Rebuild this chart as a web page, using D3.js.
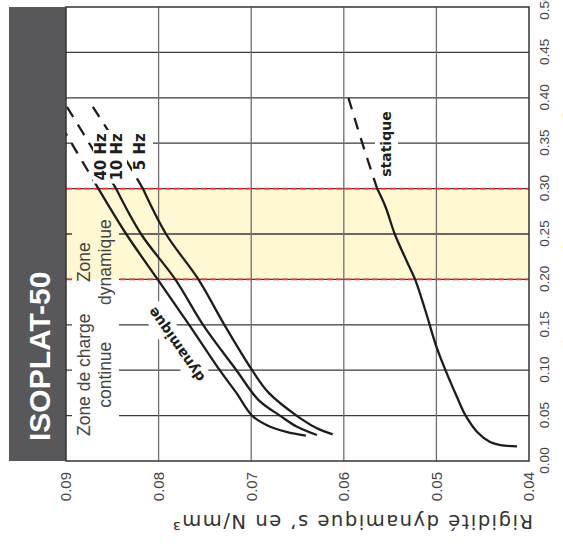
<!DOCTYPE html>
<html>
<head>
<meta charset="utf-8">
<script src="https://cdn.jsdelivr.net/npm/d3@7"></script>
<style>
body { margin: 0; background: #fff; }
svg { display: block; font-family: "DejaVu Sans", sans-serif; }
</style>
</head>
<body>
<svg id="chart" width="563" height="546"></svg>
<script>
// values: [static load in N/mm², dynamic stiffness in N/mm³]
const curve40Hz = [[0.39, 0.0917], [0.35, 0.0894], [0.30, 0.0865], [0.25, 0.0835], [0.20, 0.0801],
    [0.15, 0.0767], [0.10, 0.0734], [0.075, 0.0716], [0.05, 0.0699], [0.040, 0.0684], [0.032, 0.0662], [0.028, 0.0641]];
const curve10Hz = [[0.39, 0.0899], [0.35, 0.0875], [0.30, 0.0846], [0.25, 0.0819], [0.20, 0.0782],
    [0.15, 0.0752], [0.10, 0.0716], [0.067, 0.0692], [0.05, 0.0669], [0.038, 0.0651], [0.0286, 0.0629]];
const curve5Hz = [[0.39, 0.0871], [0.35, 0.0846], [0.30, 0.0817], [0.25, 0.0792], [0.20, 0.0757],
    [0.15, 0.0729], [0.10, 0.0699], [0.075, 0.0681], [0.05, 0.0651], [0.036, 0.0629], [0.0294, 0.0612]];
const curveStatic = [[0.40, 0.0595], [0.35, 0.0580], [0.30, 0.0564], [0.28, 0.0555], [0.25, 0.0545],
    [0.22, 0.0532], [0.20, 0.0523], [0.166, 0.0512], [0.126, 0.0500], [0.097, 0.0489], [0.071, 0.0478],
    [0.051, 0.0469], [0.032, 0.0456], [0.021, 0.0442], [0.0176, 0.0431], [0.016, 0.0413]];

const loadTicks = [0, 0.05, 0.10, 0.15, 0.20, 0.25, 0.30, 0.35, 0.40, 0.45, 0.50];
const stiffTicks = [0.09, 0.08, 0.07, 0.06, 0.05, 0.04];
const dynZone = [0.20, 0.30];
const dashedAbove = 0.30;
const hzLabels = ["40 Hz", "10 Hz", "5 Hz"];
const chartTitle = "ISOPLAT-50";
const xTitle = "Charge statique en N/mm²";
const yTitle = "Rigidité dynamique s’ en N/mm³";

const svg = d3.select("#chart");

// the chart is drawn upright, then turned a quarter turn to the left
const W = 454, H = 463;
const g = svg.append("g").attr("transform", "translate(66,461) rotate(-90)");

const x = d3.scaleLinear().domain([0, 0.5]).range([0, W]);
const y = d3.scaleLinear().domain([0.09, 0.04]).range([0, H]);

const defs = svg.append("defs");
defs.append("clipPath").attr("id", "plotClip")
    .append("rect").attr("width", W).attr("height", H);

const gridMask = defs.append("mask").attr("id", "gridMask")
    .attr("maskUnits", "userSpaceOnUse")
    .attr("x", -20).attr("y", -20).attr("width", W + 40).attr("height", H + 40);
gridMask.append("rect")
    .attr("x", -20).attr("y", -20).attr("width", W + 40).attr("height", H + 40)
    .attr("fill", "#fff");

// title band
g.append("rect")
    .attr("x", 0).attr("y", -57).attr("width", W).attr("height", 57)
    .attr("fill", "#58585a");
g.append("text")
    .attr("x", 20).attr("y", -16)
    .attr("font-family", "Liberation Sans, Arial, sans-serif")
    .attr("font-weight", "bold").attr("font-size", 30)
    .attr("fill", "#fff")
    .text(chartTitle);

// background + dynamic zone
g.append("rect").attr("width", W).attr("height", H).attr("fill", "#fff");
g.append("rect")
    .attr("x", x(dynZone[0])).attr("width", x(dynZone[1]) - x(dynZone[0]))
    .attr("y", 0).attr("height", H)
    .attr("fill", "#fff8d2");

// grid
const grid = g.append("g").attr("mask", "url(#gridMask)");
grid.selectAll(".load-line")
    .data(loadTicks.slice(1, -1))
    .enter().append("line")
    .attr("x1", d => x(d)).attr("x2", d => x(d))
    .attr("y1", 0).attr("y2", H)
    .attr("stroke", "#3a3a3a").attr("stroke-width", 1.3);
grid.selectAll(".stiff-line")
    .data(stiffTicks.slice(1, -1))
    .enter().append("line")
    .attr("x1", 0).attr("x2", W)
    .attr("y1", d => y(d)).attr("y2", d => y(d))
    .attr("stroke", "#707070").attr("stroke-width", 1.3);
grid.selectAll(".zone-line")
    .data(dynZone)
    .enter().append("line")
    .attr("x1", d => x(d)).attr("x2", d => x(d))
    .attr("y1", 0).attr("y2", H)
    .attr("stroke", "#e8363c").attr("stroke-width", 1.6)
    .attr("stroke-dasharray", "6,3");

function hideGrid(bb, padX, fromEdge, transform) {
    const y0 = fromEdge ? 6 : bb.y - 3;
    gridMask.append("rect")
        .attr("x", bb.x - padX).attr("width", bb.width + 2 * padX)
        .attr("y", y0).attr("height", bb.y + bb.height + 4 - y0)
        .attr("transform", transform || null)
        .attr("fill", "#000");
}

// zone labels
const notes = g.append("g")
    .attr("font-family", "Liberation Sans, Arial, sans-serif")
    .attr("font-size", 17.5).attr("fill", "#444")
    .attr("text-anchor", "middle");

function zoneLabel(at, lines) {
    const t = notes.append("g");
    lines.forEach((s, i) => {
        t.append("text").attr("x", x(at)).attr("y", 24 + i * 21).text(s);
    });
    hideGrid(t.node().getBBox(), 3, true);
}
zoneLabel(0.095, ["Zone de charge", "continue"]);
zoneLabel(0.219, ["Zone", "dynamique"]);

const bold = g.append("g")
    .attr("font-family", "DejaVu Sans, sans-serif")
    .attr("font-weight", "bold").attr("fill", "#1d1d1b");

const statLabel = bold.append("text")
    .attr("x", x(0.313)).attr("y", y(0.0549))
    .attr("font-size", 14)
    .text("statique");
hideGrid(statLabel.node().getBBox(), 3, false);

const dynTransform = `translate(${x(0.128)},${y(0.0781)}) rotate(-35)`;
const dynLabel = bold.append("text")
    .attr("transform", dynTransform)
    .attr("text-anchor", "middle").attr("dy", "0.35em")
    .attr("font-size", 14)
    .text("dynamique");
hideGrid(dynLabel.node().getBBox(), 2, false, dynTransform);

// curves
const line = d3.line()
    .x(d => x(d[0]))
    .y(d => y(d[1]))
    .curve(d3.curveCatmullRom.alpha(0.5));

const curves = g.append("g")
    .attr("clip-path", "url(#plotClip)")
    .attr("fill", "none").attr("stroke", "#1d1d1b")
    .attr("stroke-width", 2.3);

[curve40Hz, curve10Hz, curve5Hz, curveStatic].forEach(s => {
    curves.append("path").attr("d", line(s.filter(d => d[0] <= dashedAbove)));
    curves.append("path").attr("d", line(s.filter(d => d[0] >= dashedAbove)))
        .attr("stroke-dasharray", "12,9");
});

// frequency labels sit on white patches over the dashed ends
const hzBase = [40, 56, 79];
const hzGroup = g.append("g");
const hzText = bold.append("g").attr("font-size", 15).attr("text-anchor", "end");
hzLabels.forEach((s, i) => {
    const t = hzText.append("text").attr("x", x(0.361)).attr("y", hzBase[i]).text(s);
    const bb = t.node().getBBox();
    hzGroup.append("rect")
        .attr("x", bb.x - 3).attr("y", bb.y + 1)
        .attr("width", bb.width + 6).attr("height", bb.height)
        .attr("fill", "#fff");
    hideGrid(bb, 3, true);
});
bold.raise();

// frame
g.append("rect").attr("width", W).attr("height", H)
    .attr("fill", "none").attr("stroke", "#333").attr("stroke-width", 1.5);

// axes
const xAxis = g.append("g").attr("transform", `translate(0,${H})`)
    .call(d3.axisBottom(x).tickValues(loadTicks).tickFormat(d3.format(".2f")).tickSize(0).tickPadding(10));
xAxis.select(".domain").remove();
xAxis.attr("font-family", "Liberation Sans, Arial, sans-serif").attr("font-size", 13.5);
xAxis.selectAll("text").attr("fill", "#444");

const yAxis = g.append("g")
    .call(d3.axisLeft(y).tickValues(stiffTicks).tickFormat(d3.format(".2f")).tickSize(0).tickPadding(11));
yAxis.select(".domain").remove();
yAxis.attr("font-family", "Liberation Sans, Arial, sans-serif").attr("font-size", 15);
yAxis.selectAll("text").attr("fill", "#444");

g.append("text")
    .attr("transform", `translate(-54,${H + 4}) rotate(-90)`)
    .attr("font-size", 19.5).attr("fill", "#333")
    .attr("textLength", 360).attr("lengthAdjust", "spacing")
    .text(yTitle);

g.append("text")
    .attr("x", W / 2).attr("y", H + 48)
    .attr("text-anchor", "middle")
    .attr("font-size", 18.5).attr("fill", "#333")
    .text(xTitle);
</script>
</body>
</html>
